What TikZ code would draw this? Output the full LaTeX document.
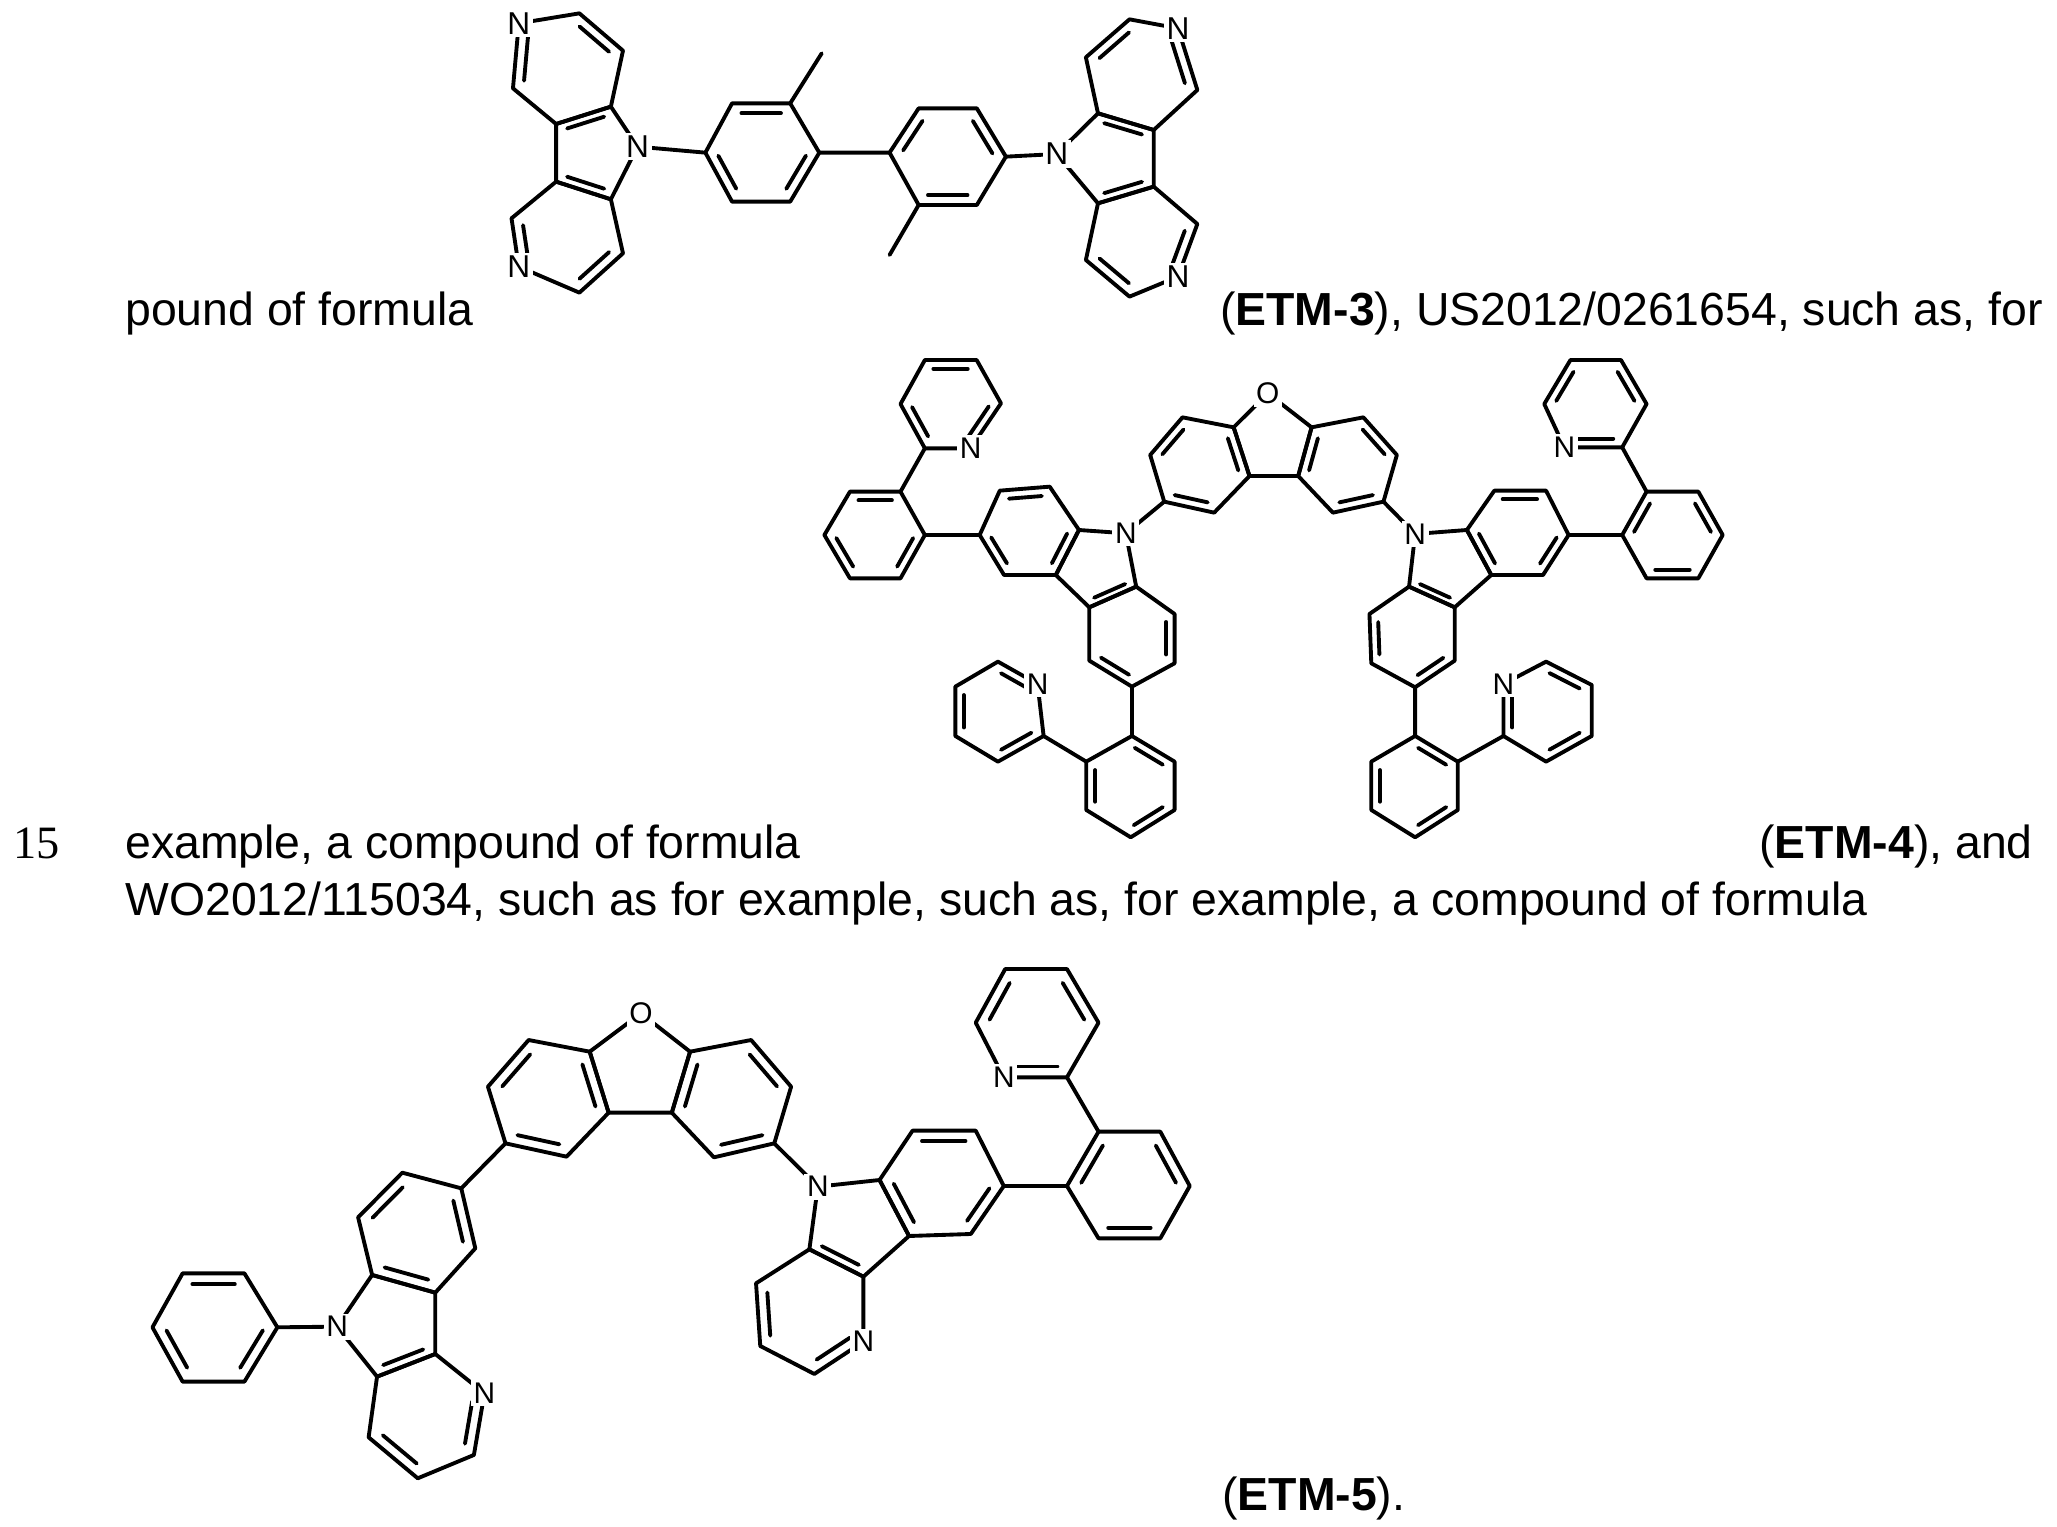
\documentclass[tikz,border=0pt]{standalone}
\usepackage{fontspec}
\setmainfont{Liberation Sans}
\newfontfamily\seriffam{Liberation Serif}
\usetikzlibrary{calc}
\tikzset{
  bond/.style={line width=2.2pt, line join=round, line cap=round},
  atomA/.style={fill=white, inner sep=1.5pt, font=\fontsize{18}{18}\selectfont},
  atomB/.style={fill=white, inner sep=1.5pt, font=\fontsize{17}{17}\selectfont},
  body/.style={inner sep=0pt, font=\fontsize{26.4}{30}\selectfont}
}
\newcommand\hexr[7]{%
 \coordinate (#1-1) at (#2); \coordinate (#1-2) at (#3); \coordinate (#1-3) at (#4);
 \coordinate (#1-4) at (#5); \coordinate (#1-5) at (#6); \coordinate (#1-6) at (#7);
 \coordinate (#1-c) at ($0.1667*(#1-1)+0.1667*(#1-2)+0.1667*(#1-3)+0.1667*(#1-4)+0.1667*(#1-5)+0.1667*(#1-6)$);
 \draw[bond] (#1-1)--(#1-2)--(#1-3)--(#1-4)--(#1-5)--(#1-6)--cycle;}
\newcommand\pentr[6]{%
 \coordinate (#1-1) at (#2); \coordinate (#1-2) at (#3); \coordinate (#1-3) at (#4);
 \coordinate (#1-4) at (#5); \coordinate (#1-5) at (#6);
 \coordinate (#1-c) at ($0.2*(#1-1)+0.2*(#1-2)+0.2*(#1-3)+0.2*(#1-4)+0.2*(#1-5)$);
 \draw[bond] (#1-1)--(#1-2)--(#1-3)--(#1-4)--(#1-5)--cycle;}
\newcommand\db[3]{\draw[bond,shorten <=2pt,shorten >=2pt] ($(#1-#2)!0.2!(#1-c)$) -- ($(#1-#3)!0.2!(#1-c)$);}
\begin{document}
\begin{tikzpicture}[x=0.02cm,y=-0.02cm]
\useasboundingbox (0,0) rectangle (2057,1526);
% ---------- text ----------
\node[body,anchor=base west] (t1) at (125,325) {pound of formula};
\node[body,anchor=base east] (t2) at (2043,325) {(\textbf{ETM-3}), US2012/0261654, such as, for};
\node[body,anchor=base west,font=\seriffam\fontsize{26.4}{30}\selectfont] (t3) at (13,858) {15};
\node[body,anchor=base west] (t4) at (125,858) {example, a compound of formula};
\node[body,anchor=base east] (t5) at (2033,858) {(\textbf{ETM-4}), and};
\node[body,anchor=base west] (t6) at (125,915) {WO2012/115034, such as for example, such as, for example, a compound of formula};
\node[body,anchor=base west] (t7) at (1222,1510) {(\textbf{ETM-5}).};
% ---------- ETM-3 ----------
\begin{scope}[shift={(480,0)},xscale=0.4847,yscale=0.3333]
\hexr{a1}{205,40}{295,152}{270,320}{157,372}{68,265}{80,70}
\db{a1}{1}{2}\db{a1}{5}{6}
\pentr{a2}{270,320}{325,440}{270,598}{157,545}{157,372}
\db{a2}{1}{5}\db{a2}{3}{4}
\hexr{a3}{157,545}{65,655}{80,800}{205,878}{295,760}{270,598}
\db{a3}{2}{3}\db{a3}{4}{5}
\hexr{a4}{465,458}{520,310}{640,310}{700,458}{640,605}{520,605}
\db{a4}{2}{3}\db{a4}{4}{5}\db{a4}{6}{1}
\hexr{a5}{845,458}{905,325}{1025,325}{1085,470}{1025,615}{905,615}
\db{a5}{1}{2}\db{a5}{3}{4}\db{a5}{5}{6}
\pentr{a6}{1190,462}{1275,340}{1390,390}{1390,560}{1275,610}
\db{a6}{2}{3}\db{a6}{4}{5}
\hexr{a7}{1275,340}{1250,172}{1340,58}{1440,85}{1480,270}{1390,390}
\db{a7}{2}{3}\db{a7}{4}{5}
\hexr{a8}{1275,610}{1250,780}{1340,890}{1440,830}{1480,672}{1390,560}
\db{a8}{2}{3}\db{a8}{4}{5}
\coordinate (m1) at (705,160); \coordinate (m2) at (845,765);
\draw[bond] (a2-2)--(a4-1) (a4-4)--(a5-1) (a5-4)--(a6-1) (a4-3)--(m1) (a5-6)--(m2);
\foreach \r/\i in {a1/6,a2/2,a3/3,a6/1,a7/4,a8/4} \node[atomA] (N\r) at (\r-\i) {N};
\end{scope}
% ---------- ETM-4 ----------
\begin{scope}[shift={(800,330)},xscale=0.609,yscale=0.3333]
\hexr{b1}{712,292}{628,262}{575,375}{598,515}{680,548}{738,438}
\db{b1}{2}{3}\db{b1}{4}{5}\db{b1}{6}{1}
\hexr{b2}{840,292}{925,262}{980,375}{958,515}{875,548}{818,438}
\db{b2}{2}{3}\db{b2}{4}{5}\db{b2}{6}{1}
\pentr{b3}{768,190}{712,292}{738,438}{818,438}{840,292}
\hexr{b4}{458,600}{410,470}{328,482}{295,615}{335,735}{420,735}
\db{b4}{2}{3}\db{b4}{4}{5}\db{b4}{6}{1}
\pentr{b5}{535,610}{458,600}{420,735}{475,832}{552,770}
\db{b5}{4}{5}
\hexr{b6}{552,770}{615,852}{615,1000}{545,1070}{475,992}{475,832}
\db{b6}{2}{3}\db{b6}{4}{5}
\hexr{b7}{205,615}{165,485}{82,485}{40,615}{82,745}{165,745}
\db{b7}{2}{3}\db{b7}{4}{5}\db{b7}{6}{1}
\hexr{b8}{205,355}{280,355}{330,220}{290,90}{205,90}{165,222}
\db{b8}{2}{3}\db{b8}{4}{5}\db{b8}{6}{1}
\hexr{b9}{545,1218}{615,1295}{615,1440}{543,1522}{470,1440}{470,1295}
\db{b9}{1}{2}\db{b9}{3}{4}\db{b9}{5}{6}
\hexr{b10}{400,1218}{390,1062}{325,995}{255,1070}{255,1218}{325,1295}
\db{b10}{2}{3}\db{b10}{4}{5}\db{b10}{6}{1}
\hexr{b11}{1095,600}{1140,482}{1225,482}{1262,615}{1220,735}{1135,735}
\db{b11}{2}{3}\db{b11}{4}{5}\db{b11}{6}{1}
\pentr{b12}{1010,612}{1095,600}{1135,735}{1075,832}{1000,770}
\db{b12}{4}{5}
\hexr{b13}{1000,770}{935,852}{938,1000}{1010,1072}{1075,992}{1075,832}
\db{b13}{2}{3}\db{b13}{4}{5}
\hexr{b14}{1350,615}{1390,485}{1475,485}{1515,615}{1475,745}{1390,745}
\db{b14}{1}{2}\db{b14}{3}{4}\db{b14}{5}{6}
\hexr{b15}{1350,352}{1390,222}{1348,90}{1265,90}{1222,222}{1255,352}
\db{b15}{6}{1}\db{b15}{2}{3}\db{b15}{4}{5}
\hexr{b16}{1010,1218}{1080,1295}{1080,1440}{1010,1522}{938,1440}{938,1295}
\db{b16}{1}{2}\db{b16}{3}{4}\db{b16}{5}{6}
\hexr{b17}{1155,1218}{1155,1062}{1225,995}{1300,1065}{1300,1218}{1225,1295}
\db{b17}{1}{2}\db{b17}{3}{4}\db{b17}{5}{6}
\draw[bond] (b4-4)--(b7-1) (b7-2)--(b8-1) (b1-4)--(b5-1) (b6-4)--(b9-1) (b9-6)--(b10-1)
  (b11-4)--(b14-1) (b14-2)--(b15-1) (b2-4)--(b12-1) (b13-4)--(b16-1) (b16-2)--(b17-1);
\node[atomB] (Ob) at (b3-1) {O};
\foreach \r/\i in {b5/1,b8/2,b10/2,b12/1,b15/6,b17/2} \node[atomB] (N\r) at (\r-\i) {N};
\end{scope}
% ---------- ETM-5 ----------
\begin{scope}[shift={(130,980)},xscale=0.7018,yscale=0.3333]
\hexr{c1}{655,215}{568,180}{510,320}{535,490}{622,530}{682,398}
\db{c1}{2}{3}\db{c1}{4}{5}\db{c1}{6}{1}
\hexr{c2}{798,215}{885,180}{942,320}{918,490}{832,532}{772,398}
\db{c2}{2}{3}\db{c2}{4}{5}\db{c2}{6}{1}
\pentr{c3}{728,100}{655,215}{682,398}{772,398}{798,215}
\hexr{c4}{472,625}{388,578}{325,712}{345,885}{435,938}{492,805}
\db{c4}{2}{3}\db{c4}{4}{5}\db{c4}{6}{1}
\pentr{c5}{295,1040}{345,885}{435,938}{435,1122}{352,1190}
\db{c5}{4}{5}
\hexr{c6}{435,1122}{505,1240}{490,1425}{410,1495}{340,1372}{352,1190}
\db{c6}{2}{3}\db{c6}{4}{5}
\hexr{c7}{210,1042}{163,880}{75,880}{32,1042}{75,1205}{163,1205}
\db{c7}{2}{3}\db{c7}{4}{5}\db{c7}{6}{1}
\pentr{c8}{980,620}{1068,600}{1110,768}{1045,890}{968,808}
\db{c8}{4}{5}
\hexr{c9}{1068,600}{1115,452}{1205,452}{1245,618}{1198,762}{1110,768}
\db{c9}{2}{3}\db{c9}{4}{5}\db{c9}{6}{1}
\hexr{c10}{968,808}{892,910}{898,1098}{975,1182}{1045,1085}{1045,890}
\db{c10}{2}{3}\db{c10}{4}{5}
\hexr{c11}{1335,618}{1380,455}{1468,455}{1510,618}{1468,775}{1380,775}
\db{c11}{1}{2}\db{c11}{3}{4}\db{c11}{5}{6}
\hexr{c12}{1335,292}{1380,128}{1335,-33}{1247,-33}{1205,128}{1245,292}
\db{c12}{6}{1}\db{c12}{2}{3}\db{c12}{4}{5}
\draw[bond] (c1-4)--(c4-1) (c5-1)--(c7-1) (c2-4)--(c8-1) (c9-4)--(c11-1) (c11-2)--(c12-1);
\node[atomB] (Oc) at (c3-1) {O};
\foreach \r/\i in {c5/1,c6/2,c8/1,c10/5,c12/6} \node[atomB] (N\r) at (\r-\i) {N};
\end{scope}
\end{tikzpicture}
\end{document}
